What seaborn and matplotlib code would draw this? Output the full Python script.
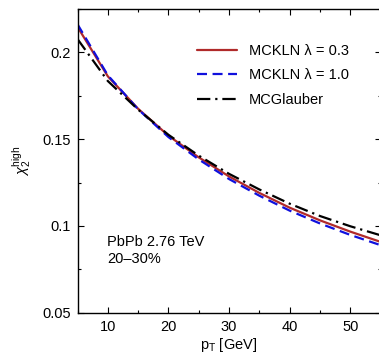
import numpy as np
import pandas as pd
import matplotlib
matplotlib.use("Agg")
import matplotlib.pyplot as plt
import seaborn as sns

pt = [5, 10, 15, 20, 25, 30, 35, 40, 45, 50, 55]
mckln_03 = [0.2147, 0.1862, 0.1675, 0.1520, 0.1395, 0.1285, 0.1190, 0.1105, 0.1032, 0.0967, 0.0908]
mckln_10 = [0.2162, 0.1868, 0.1672, 0.1512, 0.1383, 0.1270, 0.1174, 0.1088, 0.1014, 0.0948, 0.0889]
mcglauber = [0.2077, 0.1835, 0.1670, 0.1525, 0.1405, 0.1300, 0.1210, 0.1128, 0.1057, 0.0998, 0.0946]
labels = ["MCKLN λ = 0.3", "MCKLN λ = 1.0", "MCGlauber"]

sns.set_style("ticks")
plt.rcParams['font.family'] = ['Liberation Sans', 'DejaVu Sans']
plt.rcParams['mathtext.fontset'] = 'custom'
plt.rcParams['mathtext.rm'] = 'Liberation Sans'
plt.rcParams['mathtext.it'] = 'Liberation Sans:italic'
for k in ['text.color', 'axes.labelcolor', 'xtick.color', 'ytick.color', 'axes.edgecolor']:
    plt.rcParams[k] = 'black'

fig = plt.figure(figsize=(3.79, 3.56), dpi=100)
ax = fig.add_axes([0.2045, 0.1216, 0.80, 0.8531])

sns.lineplot(x=pt, y=mckln_03, ax=ax, color="#b02a2a", lw=1.6, label=labels[0])
sns.lineplot(x=pt, y=mckln_10, ax=ax, color="#1010dd", lw=1.6, label=labels[1],
             linestyle=(0, (4.5, 2.5)))
sns.lineplot(x=pt, y=mcglauber, ax=ax, color="black", lw=1.6, label=labels[2],
             linestyle=(0, (6, 2.2, 1, 2.2)))

ax.set_xlim(5, 55)
ax.set_ylim(0.05, 0.225)
ax.set_xticks([10, 20, 30, 40, 50])
ax.set_xticks([5, 15, 25, 35, 45, 55], minor=True)
ax.set_yticks([0.05, 0.1, 0.15, 0.2])
ax.set_yticklabels(["0.05", "0.1", "0.15", "0.2"])
ax.set_yticks([0.075, 0.125, 0.175, 0.225], minor=True)
ax.tick_params(which='both', direction='in', top=True, right=True, labelsize=10.5, width=0.8, pad=5)
ax.tick_params(which='major', length=4)
ax.tick_params(which='minor', length=2.5)
for s in ax.spines.values():
    s.set_linewidth(1.0)
    s.set_visible(True)

ax.set_xlabel(r"p$_{\rm T}$ [GeV]", fontsize=10.5, labelpad=2)
ax.set_ylabel(r"$\chi_2^{\rm high}$", fontsize=10.5, labelpad=6)

ax.text(0.098, 0.255, "PbPb 2.76 TeV\n20–30%", transform=ax.transAxes,
        fontsize=10.5, va='top', ha='left', linespacing=1.25)

leg = ax.legend(loc='upper right', bbox_to_anchor=(0.915, 0.905), frameon=False,
                fontsize=10.5, handlelength=2.8, handletextpad=0.8, labelspacing=0.72,
                borderaxespad=0)

fig.savefig("out.png", dpi=100)
